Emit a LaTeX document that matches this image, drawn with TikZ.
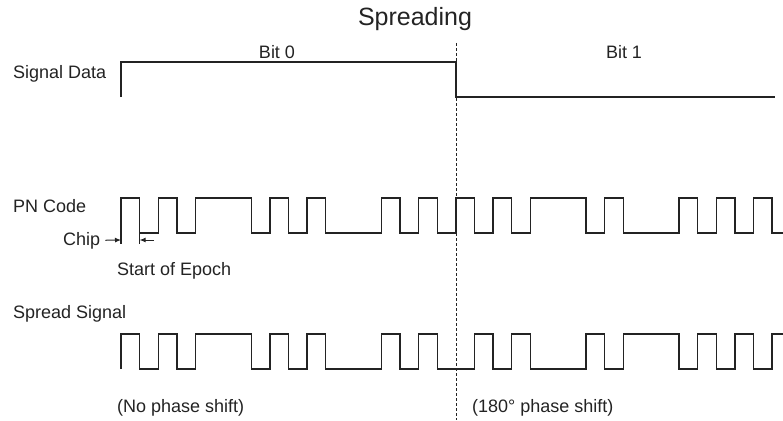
\documentclass[tikz,border=0pt]{standalone}
\usepackage{fontspec}
\setmainfont{Liberation Sans}
\usetikzlibrary{arrows.meta}
\definecolor{ink}{RGB}{35,35,35}
\begin{document}
\begin{tikzpicture}[x=1pt,y=-1pt,
  txt/.style={anchor=base west, inner sep=0pt, text=ink, font=\fontsize{18}{21}\selectfont},
  bittxt/.style={txt, anchor=base},
  wave/.style={draw=ink, line width=1.4pt},
  marker/.style={draw=ink, line width=1pt, -{Latex[length=6pt,width=5pt]}},
  boundary/.style={draw=ink, line width=0.9pt, dash pattern=on 3pt off 2pt}]
\useasboundingbox (0,0) rectangle (783,420);
% titles and labels
\node [anchor=base, inner sep=0pt, text=ink, font=\fontsize{25}{30}\selectfont] (title) at (415,26) {Spreading};
\node [bittxt] (bit0) at (277,58) {Bit 0};
\node [bittxt] (bit1) at (624,58) {Bit 1};
\node [txt] (sigdata) at (13,78) {Signal Data};
\node [txt] (pncode) at (13,212) {PN Code};
\node [txt] (chip) at (63,245) {Chip};
\node [txt] (epoch) at (117,275) {Start of Epoch};
\node [txt] (spread) at (13,318) {Spread Signal};
\node [txt] (nophase) at (117,412) {(No phase shift)};
\node [txt] (phase180) at (472,412) {(180° phase shift)};
% data bits
\draw [wave] (121,97) -- (121,62) -- (456,62) -- (456,97) -- (775,97);
% chips, one unit per chip
\begin{scope}[xshift=121pt, x=18.6pt]
\draw [wave] (0,233) -- (0,198) -- (1,198) -- (1,233) -- (2,233) -- (2,198) -- (3,198) -- (3,233) -- (4,233) -- (4,198) -- (7,198) -- (7,233) -- (8,233) -- (8,198) -- (9,198) -- (9,233) -- (10,233) -- (10,198) -- (11,198) -- (11,233) -- (14,233) -- (14,198) -- (15,198) -- (15,233) -- (16,233) -- (16,198) -- (17,198) -- (17,233) -- (18,233) -- (18,198) -- (19,198) -- (19,233) -- (20,233) -- (20,198) -- (21,198) -- (21,233) -- (22,233) -- (22,198) -- (25,198) -- (25,233) -- (26,233) -- (26,198) -- (27,198) -- (27,233) -- (30,233) -- (30,198) -- (31,198) -- (31,233) -- (32,233) -- (32,198) -- (33,198) -- (33,233) -- (34,233) -- (34,198) -- (35,198) -- (35,233) -- (35.6,233);
\draw [wave] (0,233) -- (0,244);
\draw [wave] (1,233) -- (1,244);
\coordinate (tickA) at (0,240);
\coordinate (tickB) at (1,240);
\draw [wave] (0,369) -- (0,334) -- (1,334) -- (1,369) -- (2,369) -- (2,334) -- (3,334) -- (3,369) -- (4,369) -- (4,334) -- (7,334) -- (7,369) -- (8,369) -- (8,334) -- (9,334) -- (9,369) -- (10,369) -- (10,334) -- (11,334) -- (11,369) -- (14,369) -- (14,334) -- (15,334) -- (15,369) -- (16,369) -- (16,334) -- (17,334) -- (17,369) -- (19,369) -- (19,334) -- (20,334) -- (20,369) -- (21,369) -- (21,334) -- (22,334) -- (22,369) -- (25,369) -- (25,334) -- (26,334) -- (26,369) -- (27,369) -- (27,334) -- (30,334) -- (30,369) -- (31,369) -- (31,334) -- (32,334) -- (32,369) -- (33,369) -- (33,334) -- (34,334) -- (34,369) -- (35,369) -- (35,334) -- (35.6,334);
\end{scope}
% chip width marks
\coordinate (chipend) at (154,240);
\draw [marker, shorten <=5pt] (chip.east) -- (tickA);
\draw [marker] (chipend) -- (tickB);
% bit boundary
\draw [boundary] (456,43) -- (456,420);
\end{tikzpicture}
\end{document}
